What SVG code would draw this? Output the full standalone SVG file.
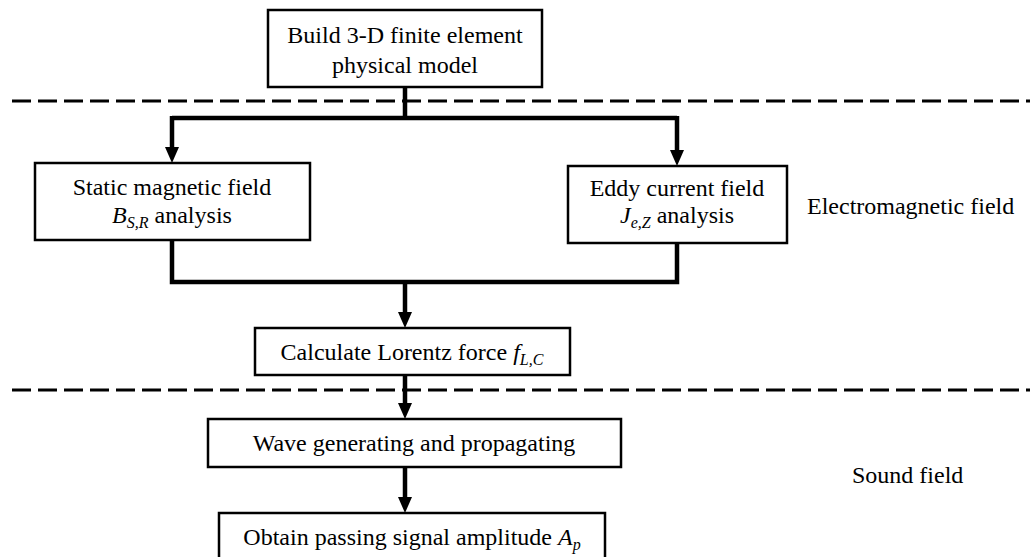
<svg xmlns="http://www.w3.org/2000/svg" width="1030" height="557" viewBox="0 0 1030 557">
<style>
.box{fill:#fff;stroke:#000;stroke-width:2.5}
.t{font-family:"Liberation Serif","Times New Roman",serif;font-size:24px;fill:#000}
.it{font-style:italic}
.sub{font-style:italic;font-size:16px}
.con{fill:none;stroke:#000;stroke-width:4.5}
.dash{fill:none;stroke:#000;stroke-width:3;stroke-dasharray:19 7}
</style>
<defs>
<marker id="ah" viewBox="0 0 16 14" refX="0" refY="7" markerWidth="16" markerHeight="14" markerUnits="userSpaceOnUse" orient="auto">
<path d="M0,0 L16,7 L0,14 z" fill="#000"/>
</marker>
</defs>
<rect width="1030" height="557" fill="#fff"/>
<g id="separators">
<line class="dash" x1="12" y1="101" x2="1030" y2="101"/>
<line class="dash" x1="12" y1="390" x2="1030" y2="390"/>
</g>
<g id="connectors">
<path class="con" d="M405,87 V118"/>
<path class="con" d="M172,118 H677"/>
<path class="con" d="M172,116 V147" marker-end="url(#ah)"/>
<path class="con" d="M677,116 V150" marker-end="url(#ah)"/>
<path class="con" d="M172,240 V282 H677 V243"/>
<path class="con" d="M405,282 V312" marker-end="url(#ah)"/>
<path class="con" d="M405,375 V403" marker-end="url(#ah)"/>
<path class="con" d="M405,467 V497" marker-end="url(#ah)"/>
</g>
<g id="build">
<rect class="box" x="268" y="10" width="274" height="77"/>
<text class="t" x="405" y="43" text-anchor="middle">Build 3-D finite element</text>
<text class="t" x="405" y="73" text-anchor="middle">physical model</text>
</g>
<g id="static">
<rect class="box" x="35" y="163" width="275" height="77"/>
<text class="t" x="172" y="195" text-anchor="middle">Static magnetic field</text>
<text class="t" x="172" y="223" text-anchor="middle"><tspan class="it">B</tspan><tspan class="sub" dy="5">S,R</tspan><tspan dy="-5"> analysis</tspan></text>
</g>
<g id="eddy">
<rect class="box" x="568" y="166" width="219" height="77"/>
<text class="t" x="677" y="196" text-anchor="middle">Eddy current field</text>
<text class="t" x="677" y="223" text-anchor="middle"><tspan class="it">J</tspan><tspan class="sub" dy="5">e,Z</tspan><tspan dy="-5"> analysis</tspan></text>
</g>
<g id="lorentz">
<rect class="box" x="255" y="328" width="315" height="47"/>
<text class="t" x="412" y="360" text-anchor="middle">Calculate Lorentz force <tspan class="it">f</tspan><tspan class="sub" dy="5">L,C</tspan></text>
</g>
<g id="wave">
<rect class="box" x="208" y="419" width="413" height="48"/>
<text class="t" x="414" y="451" text-anchor="middle">Wave generating and propagating</text>
</g>
<g id="obtain">
<rect class="box" x="219" y="513" width="386" height="50"/>
<text class="t" x="412" y="545" text-anchor="middle">Obtain passing signal amplitude <tspan class="it">A</tspan><tspan class="sub" dy="5">p</tspan></text>
</g>
<g id="labels">
<text class="t" x="807" y="214">Electromagnetic field</text>
<text class="t" x="852" y="483">Sound field</text>
</g>
</svg>
